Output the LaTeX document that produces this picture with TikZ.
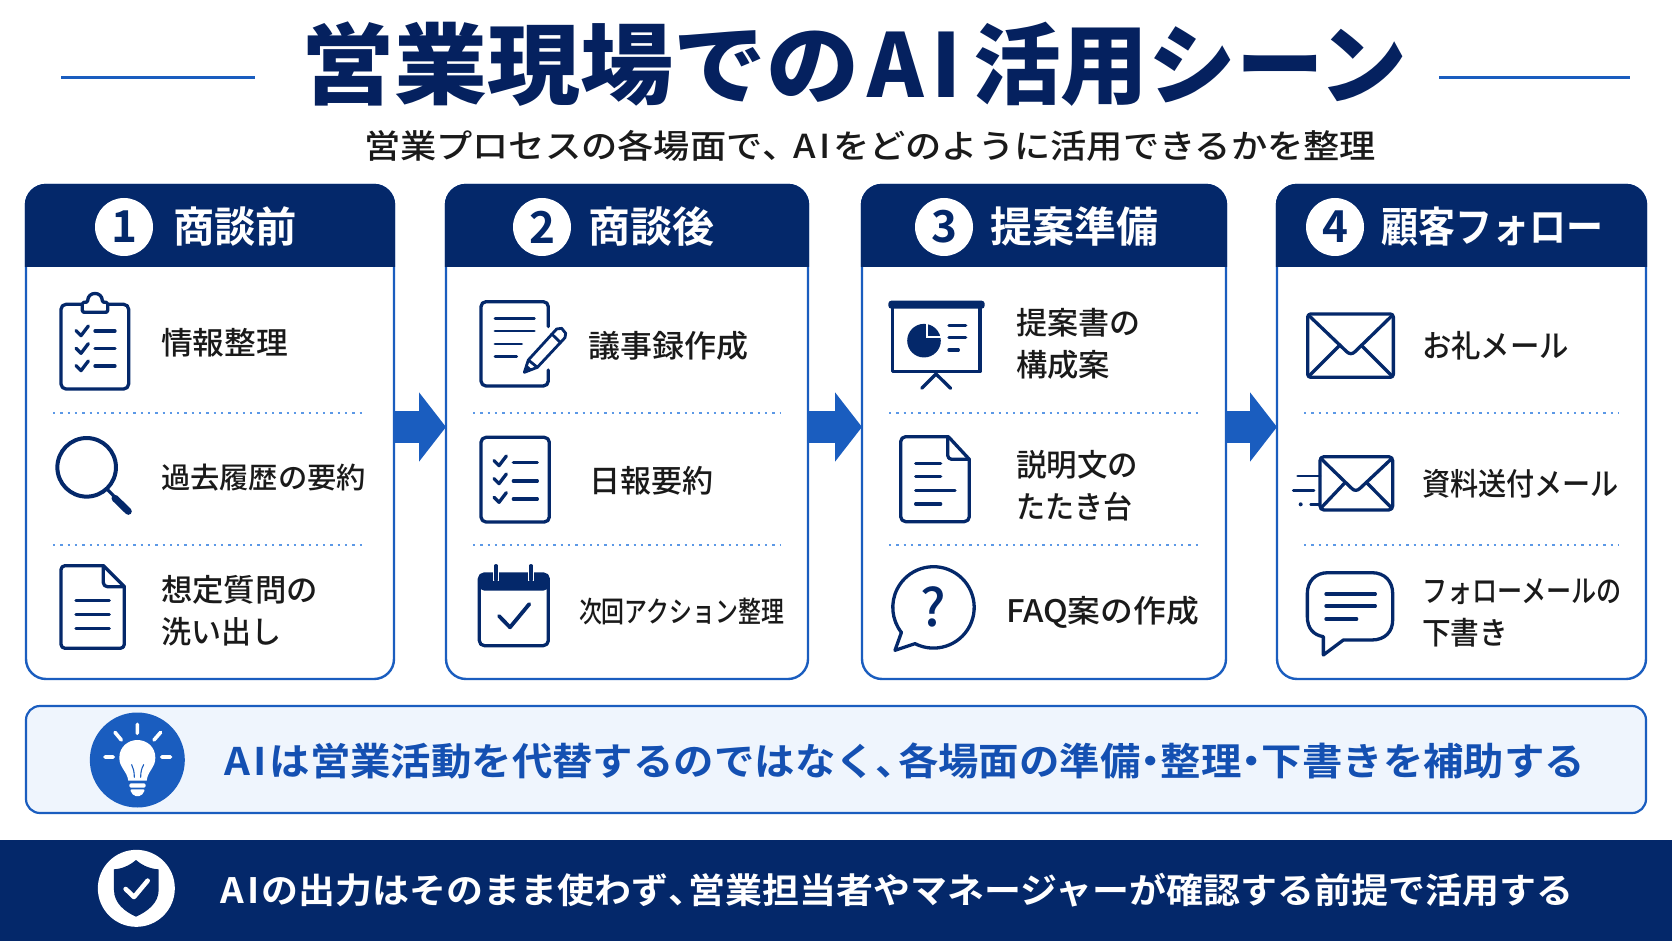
\documentclass[tikz,border=0pt]{standalone}
\usepackage{graphicx}
\usepackage{fontspec}
\usetikzlibrary{arrows.meta,calc}
\setmainfont{Noto Sans CJK JP}
\newfontfamily\jpbf{Noto Sans CJK JP Bold}
\newfontfamily\jpblack{Noto Sans CJK JP Black}
\newfontfamily\jpmed{Noto Sans CJK JP Medium}
\definecolor{navy}{HTML}{04286A}
\definecolor{titlec}{HTML}{05215F}
\definecolor{accent}{HTML}{1A5DBF}
\definecolor{ink}{HTML}{1A1A1A}
\definecolor{dotc}{HTML}{5B98E6}
\definecolor{pale}{HTML}{EFF5FD}
\definecolor{calltext}{HTML}{1450B2}
\newsavebox\fxbox
\newcommand\fitx[2]{\sbox\fxbox{#2}\pgfmathsetmacro\fxr{#1/\the\wd\fxbox}\scalebox{\fxr}[1]{\usebox\fxbox}\rule{0pt}{.85em}\rule[-.1em]{0pt}{.1em}}
\newcommand\fsz[2]{\fontsize{#1}{#2}\selectfont}
\newcommand\tn{\makebox[.55em][l]{、}}
\newcommand\nk{\makebox[.5em][c]{・}}
\newcommand\AIw{A\kern.1em I\kern.06em}
\tikzset{
  lbl/.style={anchor=west,inner sep=0pt,outer sep=0pt,text=ink,align=left,yshift=-1pt},
  card/.style={draw=accent,fill=white,line width=2.4pt,rounded corners=20pt,inner sep=0pt,outer sep=0pt},
  divider/.style={dotc,line width=1.6pt,dash pattern=on 2.3pt off 5pt},
  flow/.style={accent,line width=32pt,-{Triangle[length=27pt,width=68pt]}},
  ico/.style={navy,line width=3.3pt,line cap=round,line join=round},
  icofine/.style={navy,line width=2.8pt,line cap=round,line join=round},
  badge/.style={circle,fill=white,minimum size=58pt,inner sep=0pt,outer sep=0pt,text=navy,font=\jpbf\fsz{44}{44}},
  head/.style={anchor=west,inner sep=0pt,outer sep=0pt,text=white,font=\jpbf\fsz{42}{42}},
}
\newcommand\mkcard[3]{%
  \node[card,minimum width=#3pt-#2pt,minimum height=494pt,anchor=north west] (c#1) at (#2,185) {};
  \begin{scope}
    \clip[rounded corners=20pt] (c#1.south west) rectangle (c#1.north east);
    \fill[navy] ($(c#1.north west)+(-2,-2)$) rectangle (#3+2,267);
  \end{scope}
  \draw[navy,line width=2.4pt,rounded corners=20pt] (#2,267) -- (#2,185) -- (#3,185) -- (#3,267);
}
\newcommand\chk[2]{\draw[ico] (#1,#2) -- ++(15,15) -- ++(22,-29);}
\begin{document}
\begin{tikzpicture}[x=1pt,y=-1pt]
\useasboundingbox (0,0) rectangle (1672,941);
\fill[white] (0,0) rectangle (1672,941);

% title
\node[inner sep=0pt,text=titlec,font=\jpblack\fsz{88}{88}] (title) at (854,64) {\fitx{558}{営業現場での}\hspace{8pt}\fitx{100}{\AIw}\hspace{6pt}\fitx{434}{活用シーン}};
\coordinate (tl1) at (61,78); \coordinate (tl2) at (255,78);
\coordinate (tr1) at (1439,78); \coordinate (tr2) at (1630,78);
\draw[accent,line width=3pt] (tl1) -- (tl2);
\draw[accent,line width=3pt] (tr1) -- (tr2);
\node[inner sep=0pt,text=ink,font=\jpmed\fsz{33}{33}] (subtitle) at (870,146) {\fitx{1012}{営業プロセスの各場面で\tn\kern.3em\AIw をどのように活用できるかを整理}};

% cards
\mkcard{1}{26}{394}
\mkcard{2}{446}{808}
\mkcard{3}{862}{1226}
\mkcard{4}{1277}{1646}

% arrows
\coordinate (ay) at (0,427);
\draw[flow] (c1.east|-ay) -- (c2.west|-ay);
\draw[flow] (c2.east|-ay) -- (c3.west|-ay);
\draw[flow] (c3.east|-ay) -- (c4.west|-ay);

% headers
\node[badge] (b1) at (124,227) {1};
\node[badge] (b2) at (542,227) {2};
\node[badge] (b3) at (944,227) {3};
\node[badge] (b4) at (1335,227) {4};
\node[head] (h1) at (173,227) {\fitx{124}{商談前}};
\node[head] (h2) at (588,227) {\fitx{126}{商談後}};
\node[head] (h3) at (990,227) {\fitx{168}{提案準備}};
\node[head] (h4) at (1381,227) {\fitx{222}{顧客フォロー}};

% dividers
\foreach \xa/\xb in {53/366,473/781,889/1198,1304/1618}{
  \draw[divider] (\xa,413) -- (\xb,413);
  \draw[divider] (\xa,545) -- (\xb,545);
}

% item labels
\node[lbl,font=\jpmed\fsz{31}{42}] (t11) at (161,342) {\fitx{127}{情報整理}};
\node[lbl,font=\jpmed\fsz{29}{42}] (t12) at (161,477) {\fitx{205}{過去履歴の要約}};
\node[lbl,font=\jpmed\fsz{31}{42}] (t13) at (161,610) {\fitx{157}{想定質問の}\\\fitx{120}{洗い出し}};
\node[lbl,font=\jpmed\fsz{31}{42}] (t21) at (588,345) {\fitx{160}{議事録作成}};
\node[lbl,font=\jpmed\fsz{31}{42}] (t22) at (589,480) {\fitx{124}{日報要約}};
\node[lbl,font=\jpmed\fsz{29}{42}] (t23) at (579,611) {\fitx{205}{次回アクション整理}};
\node[lbl,font=\jpmed\fsz{31}{42}] (t31) at (1016,343) {\fitx{124}{提案書の}\\\fitx{94}{構成案}};
\node[lbl,font=\jpmed\fsz{31}{42}] (t32) at (1016,485) {\fitx{122}{説明文の}\\\fitx{116}{たたき台}};
\node[lbl,font=\jpmed\fsz{31}{42}] (t33) at (1006,611) {\fitx{193}{FAQ案の作成}};
\node[lbl,font=\jpmed\fsz{31}{42}] (t41) at (1422,345) {\fitx{147}{お礼メール}};
\node[lbl,font=\jpmed\fsz{31}{42}] (t42) at (1422,483) {\fitx{197}{資料送付メール}};
\node[lbl,font=\jpmed\fsz{31}{42}] (t43) at (1422,611) {\fitx{200}{フォローメールの}\\\fitx{86}{下書き}};

% ---- panel 1 icons
\begin{scope}[shift={(0,170)},x=.33333pt,y=-.33333pt]
  \draw[ico,rounded corners=5pt] (243,403) -- (183,403) -- (183,657) -- (386,657) -- (386,403) -- (327,403);
  \draw[ico,rounded corners=1.5pt] (247,427) -- (247,397) -- (263,397) .. controls (263,363) and (307,363) .. (307,397) -- (323,397) -- (323,427) -- cycle;
  \chk{228}{482}\chk{228}{535}\chk{228}{587}
  \draw[ico] (285,483) -- (345,483) (285,535) -- (345,535) (285,588) -- (345,588);
  \draw[navy,line width=4pt] (260,892) circle (29.3pt);
  \draw[navy,line width=3.2pt] (322,958) -- (345,982);
  \draw[navy,line width=7pt,line cap=round] (345,985) -- (385,1024);
  \draw[ico,rounded corners=4pt] (310,1187) -- (183,1187) -- (183,1435) -- (373,1435) -- (373,1250);
  \draw[ico] (310,1187) -- (373,1250);
  \draw[ico,rounded corners=4pt] (310,1187) -- (310,1250) -- (373,1250);
  \draw[ico] (228,1292) -- (328,1292) (228,1333) -- (328,1333) (228,1376) -- (328,1376);
\end{scope}

% ---- panel 2 icons
\begin{scope}[shift={(430,170)},x=.33333pt,y=-.33333pt]
  \draw[ico,rounded corners=5pt] (355,470) -- (355,395) -- (153,395) -- (153,648) -- (355,648) -- (355,600);
  \draw[icofine] (195,445) -- (313,445) (195,483) -- (313,483) (195,522) -- (275,522) (195,560) -- (260,560);
  \draw[icofine,fill=white] (283,607) -- (295,570) -- (380,477) -- (395,475) -- (407,490) -- (405,503) -- (322,592) -- cycle;
  \draw[icofine] (365,492) -- (392,518) (295,570) -- (322,592);
  \fill[navy] (283,607) -- (290,584) -- (306,598) -- cycle;
  \draw[ico,rounded corners=5pt] (153,802) rectangle (358,1056);
  \chk{192}{872}\chk{192}{926}\chk{192}{982}
  \draw[ico] (250,878) -- (322,878) (250,933) -- (322,933) (250,987) -- (322,987);
  \fill[navy,rounded corners=5pt] (148,1212) rectangle (355,1262);
  \draw[ico,rounded corners=5pt] (148,1212) rectangle (355,1427);
  \draw[white,line width=6pt] (198,1195) -- (198,1232) (303,1195) -- (303,1232);
  \draw[ico] (198,1187) -- (198,1230) (303,1187) -- (303,1230);
  \draw[navy,line width=3.8pt,line cap=round,line join=round] (207,1338) -- (240,1372) -- (298,1302);
\end{scope}

% ---- panel 3 icons
\begin{scope}[shift={(850,170)},x=.33333pt,y=-.33333pt]
  \fill[navy,rounded corners=3pt] (115,392) rectangle (404,416);
  \draw[ico] (128,415) -- (128,605) -- (390,605) -- (390,415);
  \draw[ico] (215,655) -- (258,612) -- (302,655);
  \fill[navy] (222,512) circle (16.8pt);
  \draw[white,line width=2pt] (232,450) -- (232,502) -- (285,502);
  \draw[ico] (297,467) -- (347,467) (297,503) -- (347,503) (297,540) -- (325,540);
  \draw[ico,rounded corners=5pt] (295,800) -- (152,800) -- (152,1055) -- (358,1055) -- (358,868);
  \draw[ico] (295,800) -- (358,868);
  \draw[ico,rounded corners=4pt] (293,800) -- (293,868) -- (358,868);
  \draw[ico] (197,880) -- (272,880) (197,920) -- (272,920) (197,962) -- (315,962) (197,1002) -- (272,1002);
  \draw[ico] (195,1421) arc[start angle=243,end angle=578,radius=40.7pt] -- (135,1441) -- cycle;
  \node[inner sep=0pt,text=navy,font=\jpmed\fsz{52}{52}] (qm) at (250,1312) {?};
\end{scope}

% ---- panel 4 icons
\begin{scope}[shift={(1230,170)},x=.33333pt,y=-.33333pt]
  \draw[ico,rounded corners=3pt] (233,432) rectangle (490,622);
  \draw[ico] (237,437) -- (350,545) .. controls (358,553) and (367,553) .. (375,545) -- (486,437);
  \draw[ico] (240,615) -- (330,525) (483,615) -- (393,525);
  \draw[ico,rounded corners=4pt] (270,860) rectangle (488,1020);
  \draw[ico] (272,865) -- (365,955) .. controls (372,963) and (382,963) .. (390,955) -- (486,865);
  \draw[ico] (272,1015) -- (345,938) (486,1015) -- (410,938);
  \draw[icofine] (203,918) -- (270,918) (190,962) -- (252,962) (242,1003) -- (270,1003);
  \fill[navy] (212,1003) circle (2pt);
  \draw[ico] (340,1410) -- (425,1410) .. controls (465,1410) and (488,1385) .. (488,1350) -- (488,1270) .. controls (488,1235) and (465,1208) .. (425,1208) -- (295,1208) .. controls (255,1208) and (232,1235) .. (232,1270) -- (232,1340) .. controls (232,1375) and (250,1395) .. (280,1400) -- (280,1455) -- cycle;
  \draw[ico] (288,1272) -- (436,1272) (288,1308) -- (436,1308) (288,1347) -- (380,1347);
\end{scope}

% callout
\node[draw=accent,fill=pale,line width=2.2pt,rounded corners=14pt,minimum width=1620pt,minimum height=107pt,anchor=north west,inner sep=0pt,outer sep=0pt] (callout) at (26,706) {};
\node[lbl,text=calltext,font=\jpbf\fsz{38}{38}] (calltxt) at (224,760) {\fitx{1361}{\AIw は営業活動を代替するのではなく\tn 各場面の準備\nk 整理\nk 下書きを補助する}};
\begin{scope}[shift={(0,690)},x=.33333pt,y=-.33333pt]
  \fill[accent] (412,210) circle (47.5pt);
  \fill[white] (385,272) .. controls (380,240) and (358,235) .. (358,203) .. controls (358,170) and (385,150) .. (412,150) .. controls (440,150) and (466,170) .. (466,203) .. controls (466,235) and (444,240) .. (440,272) -- cycle;
  \draw[accent,line width=1.1pt,line cap=round] (403,262) .. controls (403,245) and (400,235) .. (395,224) (422,262) .. controls (422,245) and (425,235) .. (431,224);
  \fill[white,rounded corners=1.5pt] (388,280) rectangle (437,293);
  \fill[white,rounded corners=2pt] (389,298) -- (436,298) -- (424,318) -- (401,318) -- cycle;
  \draw[white,line width=3.6pt,line cap=round] (412,103) -- (412,130) (345,127) -- (364,150) (482,127) -- (462,150) (315,201) -- (340,201) (485,201) -- (512,201);
\end{scope}

% bottom bar
\fill[navy] (0,840) rectangle (1672,941);
\node[lbl,text=white,font=\jpbf\fsz{35}{35}] (bartxt) at (220,889) {\fitx{1353}{\AIw の出力はそのまま使わず\tn 営業担当者やマネージャーが確認する前提で活用する}};
\begin{scope}[shift={(0,690)},x=.33333pt,y=-.33333pt]
  \fill[white] (409,595) circle (38.5pt);
  \fill[navy] (408,510) .. controls (385,530) and (360,537) .. (342,538) -- (342,600) .. controls (342,640) and (375,665) .. (408,680) .. controls (441,665) and (476,640) .. (476,600) -- (476,538) .. controls (456,537) and (431,530) .. (408,510) -- cycle;
  \draw[white,line width=4.6pt,line cap=round,line join=round] (377,597) -- (402,621) -- (443,572);
\end{scope}
\end{tikzpicture}
\end{document}
